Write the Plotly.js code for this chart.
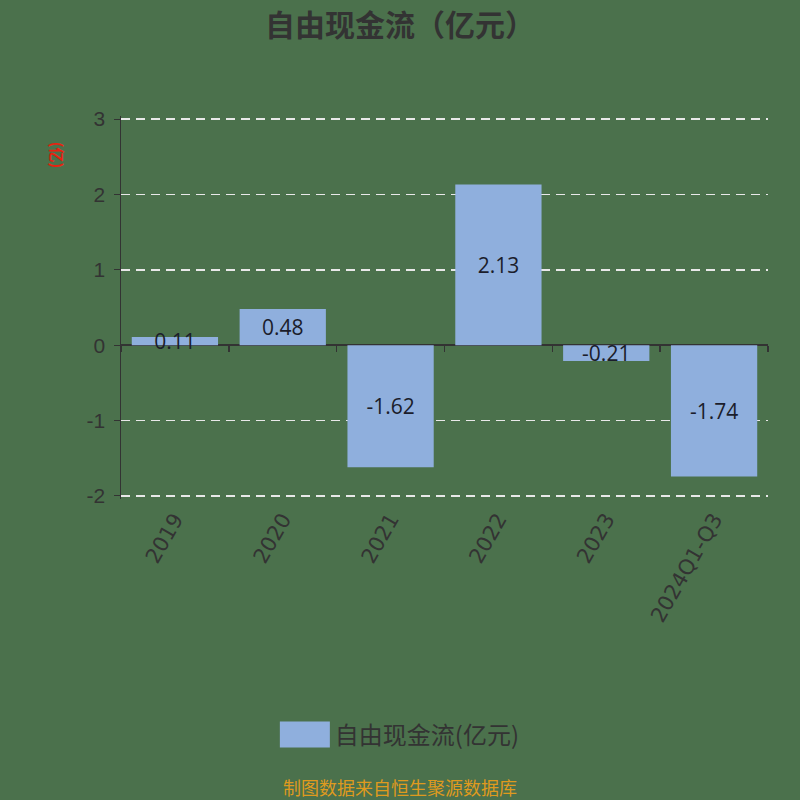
<!DOCTYPE html>
<html>
<head>
<meta charset="utf-8">
<script src="https://cdn.plot.ly/plotly-3.0.1.min.js"></script>
<style>html,body{margin:0;padding:0;background:#4b714c;}</style>
</head>
<body>
<div id="chart" style="width:800px;height:800px;"></div>
<script>
const categories = ["2019", "2020", "2021", "2022", "2023", "2024Q1-Q3"];
const values = [0.11, 0.48, -1.62, 2.13, -0.21, -1.74];
const yTicks = [-2, -1, 0, 1, 2, 3];
const yTickLabels = ["-2", "-1", "0", "1", "2", "3"];
const seriesName = "自由现金流(亿元)";
const chartTitle = "自由现金流（亿元）";
const unitLabel = "(亿)";
const sourceNote = "制图数据来自恒生聚源数据库";

const cjk = "'Noto Sans CJK SC', 'Noto Sans', sans-serif";
const num = "'Open Sans', 'Noto Sans CJK SC', sans-serif";
const axisNum = "'Liberation Sans', Arial, sans-serif";
const xLabFont = "'DejaVu Sans', sans-serif";
const barColor = "#8fafdd";

const data = [
  {
    type: "bar",
    x: categories,
    y: values,
    name: seriesName,
    width: 0.8,
    marker: {color: barColor},
    text: values.map(v => v.toFixed(2)),
    textposition: "inside",
    insidetextanchor: "middle",
    constraintext: "none",
    textangle: 0,
    textfont: {family: num, size: 21, color: "#1b1d2b"},
    cliponaxis: false,
    showlegend: false,
    hoverinfo: "skip"
  },
  {
    // legend entry for the bar series (wide swatch like the reference)
    type: "scatter",
    mode: "lines",
    x: [null],
    y: [null],
    name: seriesName,
    line: {color: barColor, width: 10},
    showlegend: true,
    hoverinfo: "skip"
  },
  {
    type: "scatter",
    mode: "markers",
    x: categories,
    y: values,
    xaxis: "x2",
    marker: {opacity: 0},
    showlegend: false,
    hoverinfo: "skip"
  }
];
const layout = {
  width: 800, height: 800,
  paper_bgcolor: "#4b714c",
  plot_bgcolor: "#4b714c",
  margin: {l: 121, r: 32, t: 116, b: 301},
  title: {text: chartTitle, x: 0.5, xanchor: "center", y: 0.968, yanchor: "middle",
          font: {family: cjk, size: 30, color: "#333333", weight: "bold"}},
  bargap: 0.2,
  xaxis: {
    type: "category",
    tickangle: -60,
    ticks: "",
    showline: false,
    showgrid: false,
    zeroline: false,
    tickfont: {family: xLabFont, size: 21, color: "#333333"},
    ticklabelstandoff: 3
  },
  xaxis2: {
    type: "category",
    overlaying: "x",
    matches: "x",
    anchor: "free",
    position: 2.04 / 5.08,
    side: "bottom",
    tickson: "boundaries",
    ticks: "outside",
    ticklen: 6,
    tickwidth: 1.5,
    tickcolor: "#333333",
    showticklabels: false,
    showline: false,
    showgrid: false,
    zeroline: false
  },
  yaxis: {
    range: [-2.04, 3.04],
    tickvals: yTicks,
    ticktext: yTickLabels,
    ticks: "outside",
    ticklen: 6,
    tickcolor: "#333333",
    showline: true,
    linecolor: "#333333",
    linewidth: 1.5,
    showgrid: true,
    gridcolor: "#e8e8e8",
    griddash: "9px,6px",
    gridwidth: 1.5,
    zeroline: true,
    zerolinecolor: "#333333",
    zerolinewidth: 2,
    tickfont: {family: axisNum, size: 21, color: "#333333"},
    ticklabelstandoff: 4
  },
  showlegend: true,
  legend: {
    orientation: "h",
    x: 0.431, xanchor: "center",
    y: -0.616, yanchor: "middle",
    itemwidth: 50,
    font: {family: cjk, size: 24, color: "#333333"},
    bgcolor: "rgba(0,0,0,0)"
  },
  annotations: [
    {text: unitLabel, xref: "paper", yref: "paper", x: -0.097, y: 0.898,
     xanchor: "center", yanchor: "middle", showarrow: false, textangle: 90,
     font: {family: cjk, size: 15, color: "#e8210f", weight: "bold"}},
    {text: sourceNote, xref: "paper", yref: "paper", x: 0.431, y: -0.752,
     xanchor: "center", yanchor: "middle", showarrow: false,
     font: {family: cjk, size: 18, color: "#df9a1e"}}
  ]
};
Plotly.newPlot("chart", data, layout, {displayModeBar: false, staticPlot: true}).then(function (gd) {
  // thicken the legend swatch so it reads as a wide filled block
  gd.querySelectorAll(".legend .legendlines path").forEach(function (p) {
    p.style.strokeWidth = "26px";
  });
});
</script>
</body>
</html>
